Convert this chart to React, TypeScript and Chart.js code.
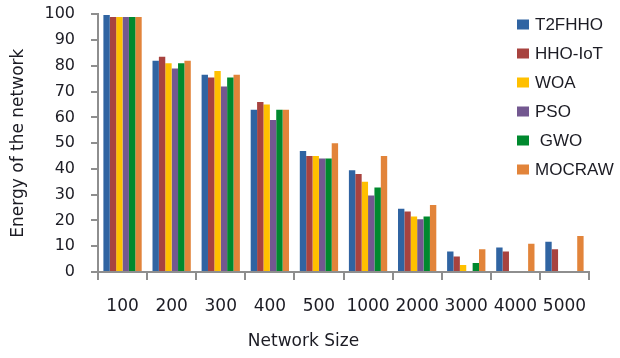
import React, { useEffect, useRef } from "react";
import { Chart, registerables } from "chart.js";

Chart.register(...registerables);

// Network sizes on the category axis
const networkSizes = ["100", "200", "300", "400", "500", "1000", "2000", "3000", "4000", "5000"];

// Remaining energy of the network for each algorithm
const t2fhho = [99.7, 82, 76.5, 63, 47, 39.5, 24.5, 8, 9.5, 11.7];
const hhoIot = [99, 83.5, 75.5, 66, 45, 38, 23.5, 6, 8, 8.8];
const woa = [99, 81, 78, 65, 45, 35, 21.5, 2.7, 0, 0];
const pso = [99, 79, 72, 59, 44, 29.7, 20.5, 0, 0, 0];
const gwo = [99, 81, 75.5, 63, 44, 32.8, 21.5, 3.5, 0, 0];
const mocraw = [99, 82, 76.5, 63, 50, 45, 26, 8.8, 11, 14];

const seriesNames = ["T2FHHO", "HHO-IoT", "WOA", "PSO", " GWO", "MOCRAW"];
const seriesColors = ["#3064a2", "#a8433f", "#ffc000", "#735890", "#00892e", "#e2843a"];
const seriesValues = [t2fhho, hhoIot, woa, pso, gwo, mocraw];

const yTicks = [0, 10, 20, 30, 40, 50, 60, 70, 80, 90, 100];

const AXIS_GRAY = "#8e8e8e";
const TEXT_COLOR = "#1c1c24";

// Legend box in the upper right and the x-axis title, drawn on the canvas
const overlayPlugin = {
  id: "overlay",
  afterDraw(chart: Chart) {
    const ctx = chart.ctx;
    ctx.save();
    ctx.font = "17px 'Liberation Sans', Arial, sans-serif";
    ctx.textBaseline = "middle";
    ctx.textAlign = "left";
    seriesNames.forEach((name, i) => {
      const cy = 24.5 + i * 29;
      ctx.fillStyle = seriesColors[i];
      ctx.fillRect(517, cy - 5, 12, 10);
      ctx.fillStyle = TEXT_COLOR;
      ctx.fillText(name, 535, cy + 1);
    });
    ctx.font = "17px 'DejaVu Sans', sans-serif";
    ctx.textAlign = "center";
    ctx.fillText("Network Size", 303.5, 342);
    ctx.restore();
  },
};

export default function App() {
  const canvasRef = useRef<HTMLCanvasElement | null>(null);

  useEffect(() => {
    const canvas = canvasRef.current;
    if (!canvas) return;
    const chart = new Chart(canvas, {
      type: "bar",
      data: {
        labels: networkSizes,
        datasets: seriesValues.map((values, i) => ({
          label: seriesNames[i],
          data: values,
          backgroundColor: seriesColors[i],
          borderWidth: 0,
          categoryPercentage: 0.78,
          barPercentage: 1,
        })),
      },
      options: {
        responsive: false,
        animation: false,
        devicePixelRatio: 1,
        layout: { padding: { left: 0, top: 14.3, right: 31, bottom: 0 } },
        plugins: {
          legend: { display: false },
          tooltip: { enabled: false },
        },
        scales: {
          x: {
            grid: {
              offset: true,
              drawOnChartArea: false,
              drawTicks: true,
              tickLength: 8,
              color: AXIS_GRAY,
              lineWidth: 2,
            },
            border: { display: true, color: AXIS_GRAY, width: 2 },
            ticks: {
              color: TEXT_COLOR,
              font: { family: "'DejaVu Sans', sans-serif", size: 17 },
              padding: 16,
              maxRotation: 0,
              autoSkip: false,
            },
            afterFit(scale: any) {
              scale.height = 86;
            },
          },
          y: {
            min: 0,
            max: 100,
            afterBuildTicks(scale: any) {
              scale.ticks = yTicks.map((v) => ({ value: v }));
            },
            grid: {
              drawOnChartArea: false,
              drawTicks: true,
              tickLength: 7,
              color: AXIS_GRAY,
              lineWidth: 2,
            },
            border: { display: true, color: AXIS_GRAY, width: 2 },
            ticks: {
              color: TEXT_COLOR,
              font: { family: "'DejaVu Sans', sans-serif", size: 16 },
              padding: 16,
            },
            title: {
              display: true,
              text: "Energy of the network",
              color: TEXT_COLOR,
              font: { family: "'DejaVu Sans', sans-serif", size: 17 },
              padding: { top: 8, bottom: 0 },
            },
            afterFit(scale: any) {
              scale.width = 98;
              scale.paddingTop = 0;
              scale.paddingBottom = 0;
            },
          },
        },
      },
      plugins: [overlayPlugin],
    });
    return () => chart.destroy();
  }, []);

  return (
    <div
      style={{
        position: "absolute",
        left: 0,
        top: 0,
        width: 620,
        height: 358,
        background: "#ffffff",
      }}
    >
      <canvas ref={canvasRef} width={620} height={358} />
    </div>
  );
}
